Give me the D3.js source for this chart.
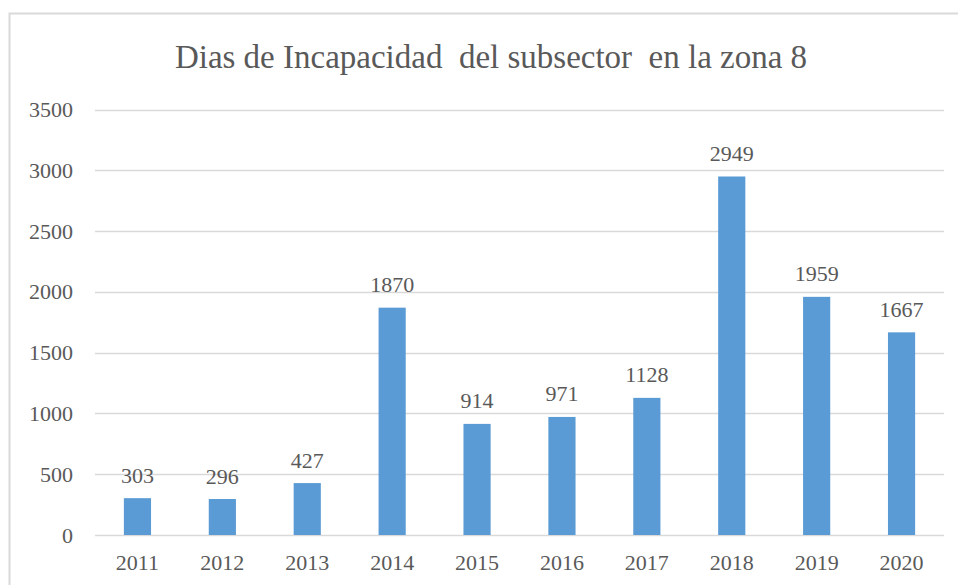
<!DOCTYPE html>
<html><head><meta charset="utf-8">
<script src="https://cdn.jsdelivr.net/npm/d3@7"></script>
<style>
html,body{margin:0;padding:0;background:#fff;}
svg{display:block;}
svg text{font-family:"Liberation Serif" !important;}
</style></head>
<body>
<svg id="chart" width="958" height="585" font-family="Liberation Serif"></svg>
<script>
const years = ["2011","2012","2013","2014","2015","2016","2017","2018","2019","2020"];
const values = [303,296,427,1870,914,971,1128,2949,1959,1667];
const yTicks = [0,500,1000,1500,2000,2500,3000,3500];
const title = "Dias de Incapacidad  del subsector  en la zona 8";

const FONT = "Liberation Serif";
const TXT = "#595959";
const svg = d3.select("#chart");
const plotL = 95, plotR = 944, plotT = 109.5, plotB = 535;

// outer border
svg.append("rect").attr("x",9.5).attr("y",13.5).attr("width",990).attr("height",600)
  .attr("fill","#fff").attr("stroke","#D9D9D9").attr("stroke-width",2);

const x = d3.scaleBand().domain(years).range([plotL,plotR]).paddingInner(0.68).paddingOuter(0.34);
const y = d3.scaleLinear().domain([0,3500]).range([plotB,plotT]);

// gridlines
svg.append("g").selectAll("line").data(yTicks).join("line")
  .attr("x1",plotL).attr("x2",plotR)
  .attr("y1",d=>Math.round(y(d))+0.5).attr("y2",d=>Math.round(y(d))+0.5)
  .attr("stroke","#D9D9D9").attr("stroke-width",1.5);

// y axis labels
const yAxis = d3.axisLeft(y).tickValues(yTicks).tickSize(0).tickPadding(0).tickFormat(d3.format("d"));
const gy = svg.append("g").attr("transform",`translate(73,0)`).call(yAxis)
  .attr("font-family",FONT).attr("font-size",22);
gy.select(".domain").remove();
gy.selectAll("text").attr("font-family",FONT).attr("font-size",22).attr("fill",TXT).attr("dy","0.32em");

// x axis labels
const xAxis = d3.axisBottom(x).tickSize(0).tickPadding(0);
const gx = svg.append("g").attr("transform",`translate(0,${plotB})`).call(xAxis)
  .attr("font-family",FONT).attr("font-size",22);
gx.select(".domain").remove();
gx.selectAll("text").attr("font-family",FONT).attr("font-size",22).attr("fill",TXT).attr("dy",null).attr("y",35);

// bars
svg.append("g").selectAll("rect").data(values).join("rect")
  .attr("x",(d,i)=>x(years[i]))
  .attr("width",x.bandwidth())
  .attr("y",d=>y(d))
  .attr("height",d=>y(0)-y(d))
  .attr("fill","#5B9BD5");

// data labels
svg.append("g").selectAll("text").data(values).join("text")
  .attr("x",(d,i)=>x(years[i])+x.bandwidth()/2)
  .attr("y",d=>y(d)-15.5)
  .attr("text-anchor","middle")
  .attr("font-family",FONT).attr("font-size",22).attr("fill",TXT)
  .text(d=>d);

// title
svg.append("text").attr("x",491).attr("y",68).attr("text-anchor","middle")
  .attr("font-family",FONT).attr("font-size",33).attr("fill",TXT)
  .attr("xml:space","preserve").style("white-space","pre")
  .text(title);
</script>
</body></html>
